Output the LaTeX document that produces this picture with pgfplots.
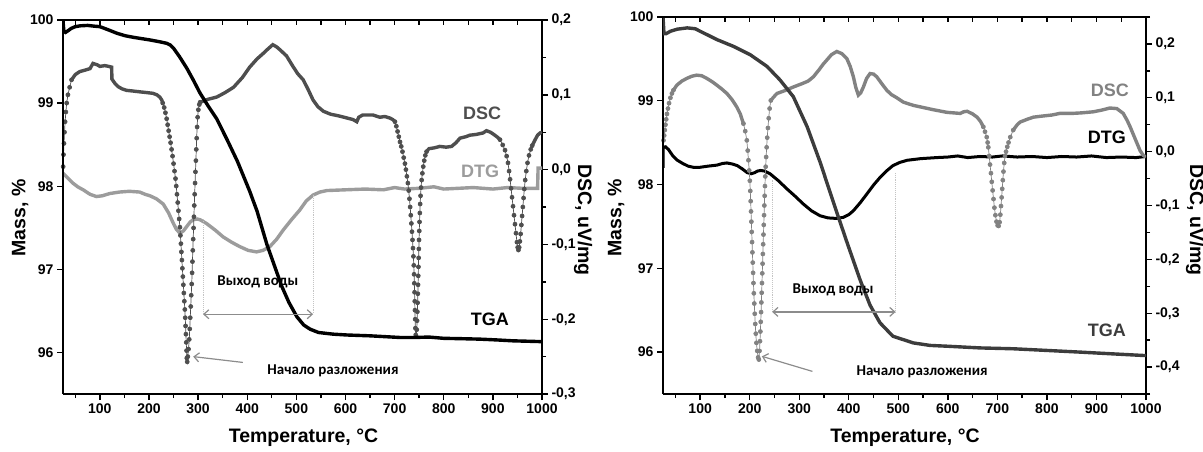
\documentclass[border=0pt]{standalone}
\usepackage{fontspec}
\setmainfont{Liberation Sans}
\newfontfamily\annfont{Carlito}
\usepackage{pgfplots}
\pgfplotsset{compat=1.18}
\usetikzlibrary{arrows.meta}

\definecolor{dscdark}{HTML}{4E4E4E}
\definecolor{dtglight}{HTML}{9C9C9C}
\definecolor{dscmid}{HTML}{828282}
\definecolor{tgadark}{HTML}{3C3C3C}
\definecolor{annline}{HTML}{8C8C8C}
\definecolor{guide}{HTML}{C4C4C4}

\pgfplotsset{
  panel/.style={
    scale only axis, xmin=25, xmax=1000,
    /pgf/number format/assume math mode=true,
    /pgf/number format/1000 sep={},
    tick label style={font=\fontsize{14}{16}\selectfont\bfseries},
    axis line style={line width=1.6pt},
    major tick style={line width=1.4pt, black},
    minor tick style={line width=1.4pt, black},
    major tick length=6pt, minor tick length=4pt,
    tick align=outside,
  },
  leftpanel/.style={panel, at={(63pt,57pt)}, anchor=south west, width=479pt, height=374pt},
  rightpanel/.style={panel, at={(663pt,57pt)}, anchor=south west, width=483pt, height=377pt},
  massaxis/.style={ymin=95.5, ymax=100, axis x line*=bottom, axis y line*=left,
    xtick={100,200,...,1000}, minor xtick={50,150,...,950}, ytick={96,97,98,99,100}},
  topaxis/.style={ymin=0, ymax=1, axis x line*=top, axis y line=none,
    xtick={50,100,...,1000}, xticklabels={}, tick align=inside, major tick length=5pt},
  dscthick/.style={line width=3.4pt, no marks, unbounded coords=jump},
  dscdots/.style={line width=0.7pt, mark=*, mark size=2pt, unbounded coords=jump},
  curve/.style={line width=3.4pt, no marks},
}
\tikzset{
  ann/.style={font=\annfont\fontsize{15}{17}\selectfont\bfseries},
  tag/.style={font=\fontsize{18}{20}\selectfont\bfseries},
  title/.style={font=\fontsize{19.5}{22}\selectfont\bfseries},
}

\begin{document}
\begin{tikzpicture}[x=1pt,y=1pt]
\useasboundingbox (0,0) rectangle (1203,451);

% ---------------- left sample ----------------
\begin{axis}[leftpanel, ymin=-0.3, ymax=0.2, axis y line*=right, axis x line=none,
  ytick={-0.3,-0.2,-0.1,0,0.1,0.2},
  yticklabels={{-0,3},{-0,2},{-0,1},{0,0},{0,1},{0,2}},
  minor ytick={-0.25,-0.15,-0.05,0.05,0.15}]
% DTG
\addplot[curve, dtglight] table {
25 -0.005
32 -0.0095
45 -0.018
55 -0.023
66 -0.027
80 -0.033
93 -0.036
105 -0.035
120 -0.032
140 -0.030
160 -0.029
181 -0.030
192 -0.033
202 -0.035
215 -0.039
229 -0.046
240 -0.058
249 -0.071
256 -0.080
263 -0.085
270 -0.082
277 -0.076
284 -0.070
290 -0.067
298 -0.066
304 -0.067
317 -0.072
335 -0.081
351 -0.090
368 -0.097
385 -0.103
402 -0.108
419 -0.110
432 -0.108
446 -0.103
460 -0.093
473 -0.081
490 -0.067
507 -0.054
520 -0.042
534 -0.034
548 -0.030
562 -0.028
600 -0.027
640 -0.026
677 -0.027
700 -0.024
720 -0.026
750 -0.025
780 -0.023
800 -0.026
830 -0.025
860 -0.024
900 -0.026
930 -0.024
960 -0.025
991 -0.025
992 0.002
1000 0.002
};
% DSC, continuous parts
\addplot[dscthick, dscdark] table {
42.4 0.120
50 0.127
59 0.131
70 0.133
80 0.135
86 0.142
95 0.140
100 0.138
110 0.139
118 0.138
124 0.137
124.6 0.121
131 0.115
137 0.111
145 0.108
154 0.106
168 0.105
181 0.104
195 0.103
208 0.102
216 0.100
222 0.097
226 0.093
228 0.089
nan nan
304 0.090
312 0.092
320 0.094
338 0.097
355 0.103
372 0.110
390 0.123
405 0.137
420 0.148
432 0.155
440 0.160
452 0.167
460 0.164
467 0.160
480 0.152
493 0.138
503 0.128
514 0.120
524 0.107
534 0.093
544 0.084
555 0.078
570 0.074
585 0.072
603 0.069
615 0.067
623 0.064
627 0.070
635 0.073
656 0.073
670 0.070
680 0.071
690 0.069
696 0.067
700.7 0.064
nan nan
765 0.024
770 0.028
780 0.029
792 0.031
805 0.030
816 0.031
825 0.036
833 0.042
845 0.044
853 0.046
866 0.047
880 0.049
887 0.052
895 0.050
904 0.046
910 0.043
914.5 0.040
nan nan
980 0.032
986 0.040
991 0.046
996 0.049
1000 0.050
};
% DSC, sampled points through the peaks
\addplot[dscdots, dscdark] table {
25.3 0.004
26 0.020
27 0.035
28 0.050
29.3 0.064
30.8 0.077
32.5 0.089
35 0.100
38.5 0.110
42.4 0.120
nan nan
228 0.089
231 0.083
233.5 0.076
236 0.068
238 0.060
240 0.052
242 0.044
244 0.036
246 0.027
248 0.018
250 0.008
252 -0.002
254 -0.012
255.5 -0.022
257 -0.033
258.5 -0.044
260 -0.055
261.5 -0.066
263 -0.077
264 -0.088
265 -0.099
266 -0.110
267 -0.121
268 -0.132
269 -0.143
270 -0.154
271 -0.165
272 -0.176
273 -0.187
273.8 -0.198
274.5 -0.209
275.2 -0.220
275.9 -0.231
276.5 -0.242
277 -0.252
277.8 -0.257
279 -0.250
280.5 -0.240
282 -0.227
283 -0.213
284 -0.198
285 -0.183
286 -0.168
287 -0.153
287.8 -0.138
288.5 -0.123
289.2 -0.108
290 -0.093
290.8 -0.078
291.5 -0.063
292.2 -0.048
293 -0.033
293.8 -0.018
294.6 -0.003
295.5 0.012
296.3 0.027
297.1 0.042
298 0.057
299 0.070
300.5 0.080
302.5 0.087
304 0.090
nan nan
700.7 0.064
703.5 0.058
706 0.051
708.5 0.044
711 0.037
713.5 0.031
716 0.024
718.5 0.016
721 0.008
723 0.000
725 -0.009
727 -0.018
728.7 -0.028
730.2 -0.039
731.6 -0.050
732.9 -0.061
734.1 -0.072
735.3 -0.083
736.4 -0.094
737.4 -0.105
738.3 -0.116
739 -0.128
739.6 -0.140
740.1 -0.152
740.6 -0.164
741 -0.176
741.4 -0.188
741.8 -0.200
742.3 -0.212
743 -0.221
744 -0.223
745 -0.214
745.7 -0.202
746.3 -0.190
746.8 -0.178
747.3 -0.166
747.7 -0.154
748.1 -0.142
748.5 -0.130
748.9 -0.118
749.3 -0.106
749.7 -0.094
750.2 -0.082
750.7 -0.070
751.3 -0.058
752 -0.046
752.8 -0.035
753.8 -0.024
755 -0.014
756.5 -0.005
758.3 0.004
760.3 0.012
762.5 0.019
765 0.024
nan nan
914.5 0.040
920 0.033
924.7 0.026
928 0.018
930.8 0.009
933 -0.002
935 -0.013
937 -0.025
939 -0.037
941 -0.049
943 -0.061
945 -0.073
947 -0.085
949 -0.097
950.5 -0.104
952 -0.1075
953.5 -0.104
955 -0.096
956.5 -0.086
958 -0.074
959.5 -0.062
961 -0.050
962.5 -0.038
964 -0.026
965.8 -0.014
968 -0.002
970.5 0.009
973.5 0.019
977 0.027
980 0.032
};
\end{axis}

\begin{axis}[leftpanel, massaxis]
% TGA
\addplot[curve, black] table {
25 100.0
25.8 99.93
27 99.86
30 99.85
35 99.87
42 99.9
50 99.92
60 99.93
75 99.935
90 99.925
100 99.92
118 99.88
135 99.84
152 99.81
170 99.79
186 99.775
202 99.76
220 99.74
236 99.72
243 99.70
250 99.66
262 99.56
277 99.42
290 99.28
304 99.12
320 98.97
338 98.81
359 98.56
380 98.30
405 97.94
420 97.70
440 97.30
455 97.05
470 96.80
485 96.60
501 96.43
515 96.33
528 96.28
545 96.24
575 96.22
603 96.21
650 96.20
711 96.18
738 96.18
770 96.185
800 96.17
840 96.165
874 96.16
910 96.15
940 96.14
970 96.135
1000 96.13
};
\draw[guide, densely dotted, line width=0.9pt] (axis cs:310,97.60) -- (axis cs:310,96.46);
\draw[guide, densely dotted, line width=0.9pt] (axis cs:534,97.90) -- (axis cs:534,96.46);
\draw[annline, line width=1.2pt, {Straight Barb[length=5pt,width=9pt]}-{Straight Barb[length=5pt,width=9pt]}]
  (axis cs:310,96.46) -- (axis cs:534,96.46);
\draw[annline, line width=1.2pt, -{Straight Barb[length=5pt,width=9pt]}]
  (axis cs:391,95.88) -- (axis cs:290,95.95);
\node[ann] at (axis cs:421.7,96.855) {Выход воды};
\node[ann] at (axis cs:574.5,95.78) {Начало разложения};
\node[tag, text=dscdark] at (axis cs:878,98.88) {DSC};
\node[tag, text=dtglight] at (axis cs:874,98.18) {DTG};
\node[tag, text=black] at (axis cs:894,96.40) {TGA};
\end{axis}

\begin{axis}[leftpanel, topaxis]
\end{axis}

% ---------------- right sample ----------------
\begin{axis}[rightpanel, ymin=-0.45, ymax=0.25, axis y line*=right, axis x line=none,
  ytick={-0.4,-0.3,-0.2,-0.1,0,0.1,0.2},
  yticklabels={{-0,4},{-0,3},{-0,2},{-0,1},{0,0},{0,1},{0,2}},
  minor ytick={-0.45,-0.35,-0.25,-0.15,-0.05,0.05,0.15,0.25}]
% DTG
\addplot[curve, black, line width=3pt] table {
25 -0.030
25.5 0.008
30 0.009
36 0.004
45 -0.008
54 -0.016
65 -0.022
76 -0.027
86 -0.029
100 -0.029
115 -0.027
134 -0.025
145 -0.022
154 -0.021
165 -0.023
175 -0.026
185 -0.032
195 -0.039
203 -0.041
210 -0.039
216 -0.036
222 -0.035
230 -0.036
241 -0.041
258 -0.054
275 -0.069
292 -0.083
308 -0.097
325 -0.110
342 -0.119
358 -0.123
375 -0.124
389 -0.122
400 -0.117
409 -0.110
423 -0.095
437 -0.078
450 -0.062
463 -0.048
476 -0.036
489 -0.026
503 -0.020
518 -0.016
545 -0.013
578 -0.011
600 -0.010
620 -0.008
640 -0.011
665 -0.009
690 -0.010
710 -0.008
740 -0.010
770 -0.009
800 -0.011
830 -0.009
860 -0.010
890 -0.008
920 -0.011
950 -0.010
980 -0.011
1000 -0.009
};
% DSC, continuous parts
\addplot[dscthick, dscmid] table {
46 0.114
53 0.1235
63 0.131
73 0.136
83 0.140
93 0.142
103 0.141
113.5 0.136
124 0.130
133.7 0.1235
144 0.116
154 0.108
164 0.097
174 0.083
181 0.070
187.4 0.052
nan nan
242.6 0.095
248 0.101
255 0.108
270 0.113
288 0.120
305 0.126
318 0.131
328.6 0.139
340 0.152
348 0.162
355.6 0.170
365 0.180
375.8 0.186
386 0.182
396 0.173
403 0.158
409.3 0.139
414 0.120
419.4 0.105
424 0.109
429.5 0.120
436 0.136
443 0.145
450 0.144
456.5 0.139
466 0.127
476.7 0.114
486 0.106
497 0.100
510 0.092
530 0.086
550 0.082
570 0.078
598 0.073
625 0.071
632 0.074
639 0.075
650 0.070
659 0.064
666 0.056
671.7 0.046
nan nan
732 0.040
740 0.050
746 0.055
760 0.060
772.5 0.064
790 0.066
810 0.068
826 0.071
850 0.071
870 0.072
893.6 0.074
910 0.077
927 0.081
941 0.080
954 0.071
962 0.058
968 0.046
973 0.035
978 0.024
983 0.013
988 0.002
994.5 -0.007
1000 -0.010
};
% DSC, sampled points through the peaks
\addplot[dscdots, dscmid] table {
26 0.021
27.3 0.030
28.6 0.040
30 0.050
31.5 0.060
33 0.070
35 0.080
37.2 0.090
40 0.100
43 0.108
46 0.114
nan nan
187.4 0.052
191 0.038
194.2 0.021
196 0.002
197.5 -0.016
199 -0.035
200.3 -0.054
201.2 -0.073
202 -0.092
202.7 -0.111
203.4 -0.130
204.1 -0.149
204.8 -0.168
205.5 -0.187
206.2 -0.206
206.9 -0.225
207.6 -0.244
208.4 -0.263
209.3 -0.282
210.2 -0.301
211.2 -0.320
212.3 -0.338
213.6 -0.355
215.2 -0.370
217 -0.382
218.5 -0.386
219.8 -0.370
220.8 -0.352
221.6 -0.334
222.3 -0.316
223 -0.298
223.6 -0.280
224.2 -0.262
224.8 -0.244
225.4 -0.226
226 -0.208
226.6 -0.190
227.2 -0.172
227.8 -0.154
228.4 -0.136
229 -0.118
229.6 -0.100
230.2 -0.082
230.8 -0.064
231.5 -0.046
232.3 -0.028
233.2 -0.010
234.2 0.008
235.4 0.026
236.8 0.044
238.4 0.062
240.2 0.080
242.6 0.095
nan nan
671.7 0.046
675 0.037
678.5 0.027
680.3 0.017
681.7 0.008
683.5 -0.008
685.2 -0.024
687 -0.040
688.7 -0.056
690.4 -0.072
692.2 -0.088
694 -0.104
696 -0.118
698.2 -0.130
700.5 -0.137
702.5 -0.138
704.5 -0.131
706 -0.117
707.3 -0.101
708.6 -0.085
709.8 -0.069
711 -0.053
712.3 -0.037
713.8 -0.021
715.4 -0.008
717.5 0.000
720 0.009
722.5 0.017
726 0.027
732 0.040
};
\end{axis}

\begin{axis}[rightpanel, massaxis]
% TGA
\addplot[curve, tgadark] table {
25 100.0
27 99.80
31 99.80
40 99.83
54 99.855
74 99.87
90 99.86
100 99.83
134 99.73
167 99.65
201 99.55
235 99.41
261 99.25
288 99.05
316 98.69
342 98.27
374 97.70
397 97.30
423 96.86
443 96.56
463 96.35
489 96.19
530 96.11
564 96.08
600 96.07
665 96.05
732 96.04
800 96.02
867 96.00
930 95.98
994 95.96
1000 95.96
};
\draw[guide, densely dotted, line width=0.9pt] (axis cs:245.3,98.06) -- (axis cs:245.3,96.48);
\draw[guide, densely dotted, line width=0.9pt] (axis cs:494.5,98.14) -- (axis cs:494.5,96.48);
\draw[annline, line width=1.2pt, {Straight Barb[length=5pt,width=9pt]}-{Straight Barb[length=5pt,width=9pt]}]
  (axis cs:245.3,96.48) -- (axis cs:494.5,96.48);
\draw[annline, line width=1.2pt, -{Straight Barb[length=5pt,width=9pt]}]
  (axis cs:326.6,95.77) -- (axis cs:224.5,95.95);
\node[ann] at (axis cs:368.4,96.74) {Выход воды};
\node[ann] at (axis cs:548,95.77) {Начало разложения};
\node[tag, text=dscmid] at (axis cs:927,99.13) {DSC};
\node[tag, text=black] at (axis cs:921,98.56) {DTG};
\node[tag, text=tgadark] at (axis cs:921,96.26) {TGA};
\end{axis}

\begin{axis}[rightpanel, topaxis]
\end{axis}

% axis titles
\node[title, rotate=90] at (20,233) {Mass, \%};
\node[title, rotate=-90] at (583,231) {DSC, uV/mg};
\node[title] at (303.5,13) {Temperature, °C};
\node[title, rotate=90] at (616,233) {Mass, \%};
\node[title, rotate=-90] at (1195,231) {DSC, uV/mg};
\node[title] at (905,13) {Temperature, °C};
\end{tikzpicture}
\end{document}
